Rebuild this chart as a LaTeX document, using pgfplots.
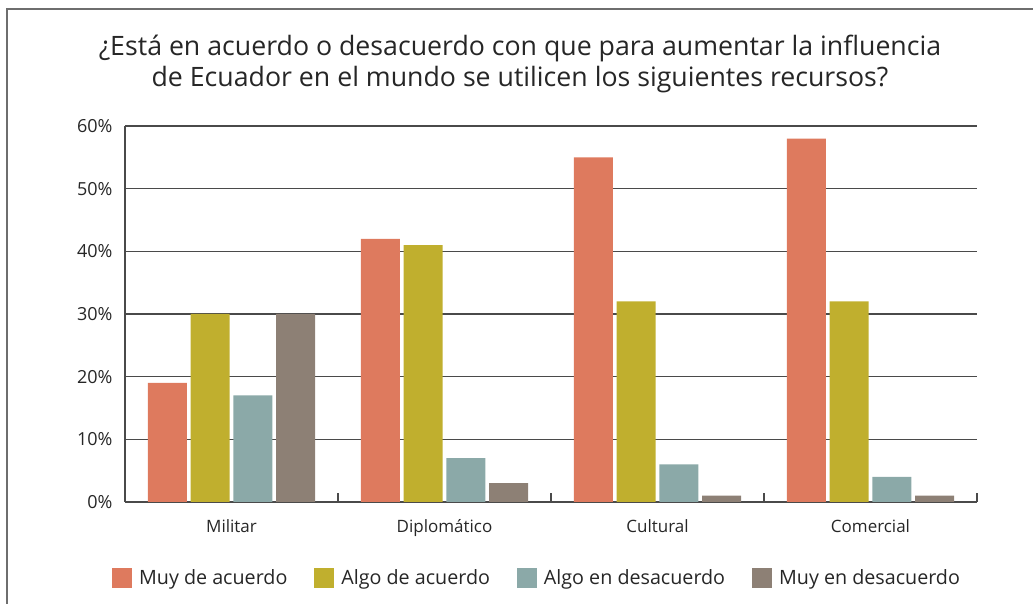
\documentclass[border=0pt]{standalone}
\usepackage{pgfplots}
\pgfplotsset{compat=1.18}
\usepackage{fontspec}
\setmainfont{Open Sans}
\definecolor{cA}{HTML}{DE7A5E}
\definecolor{cB}{HTML}{C0AF2E}
\definecolor{cC}{HTML}{8BA9A8}
\definecolor{cD}{HTML}{8D8075}
\definecolor{gridc}{HTML}{4A4A4A}
\definecolor{txt}{HTML}{262626}
\begin{document}
\begin{tikzpicture}[x=1pt,y=1pt]
\path[use as bounding box] (0,0) rectangle (1033,604);
\draw[color=gridc!80, line width=2pt] (7,0) -- (7,595) -- (1033,595);
\node[anchor=base, text=txt, font=\fontsize{26.7}{30}\selectfont] at (520,548) {¿Está en acuerdo o desacuerdo con que para aumentar la influencia};
\node[anchor=base, text=txt, font=\fontsize{26.7}{30}\selectfont] at (520,517) {de Ecuador en el mundo se utilicen los siguientes recursos?};
\begin{axis}[
  at={(125pt,102pt)}, anchor=south west,
  scale only axis, width=852pt, height=376pt,
  xmin=-0.5, xmax=3.5, ymin=0, ymax=60,
  ybar=3.7pt, bar width=39pt,
  axis lines*=left,
  axis line style={gridc, line width=1.3pt},
  ymajorgrids, major grid style={gridc, line width=1.3pt},
  xtick={0,1,2,3},
  xticklabels={Militar,Diplomático,Cultural,Comercial},
  minor xtick={0.5,1.5,2.5,3.5},
  major tick length=0pt, minor tick length=9pt,
  tick align=inside,
  minor tick style={gridc, line width=1.3pt},
  ytick={0,10,20,30,40,50,60},
  yticklabels={0\%,10\%,20\%,30\%,40\%,50\%,60\%},
  yticklabel style={font=\fontsize{18}{21}\selectfont, text=txt, xshift=-9pt},
  xticklabel style={font=\fontsize{17}{20}\selectfont, text=txt, yshift=-14pt},
  legend columns=4,
  legend style={at={(0.4836,-0.202)}, anchor=center, draw=none, fill=none,
    font=\fontsize{19.7}{22}\selectfont, text=txt,
    /tikz/every even column/.append style={column sep=25pt},
    /tikz/every odd column/.append style={column sep=5pt}},
  legend image code/.code={\fill[#1] (0pt,-10pt) rectangle (20pt,10pt);},
]
\addplot[fill=cA, draw=none] coordinates {(0,19) (1,42) (2,55) (3,58)};
\addplot[fill=cB, draw=none] coordinates {(0,30) (1,41) (2,32) (3,32)};
\addplot[fill=cC, draw=none] coordinates {(0,17) (1,7) (2,6) (3,4)};
\addplot[fill=cD, draw=none] coordinates {(0,30) (1,3) (2,1) (3,1)};
\legend{Muy de acuerdo, Algo de acuerdo, Algo en desacuerdo, Muy en desacuerdo}
\end{axis}
\end{tikzpicture}
\end{document}
